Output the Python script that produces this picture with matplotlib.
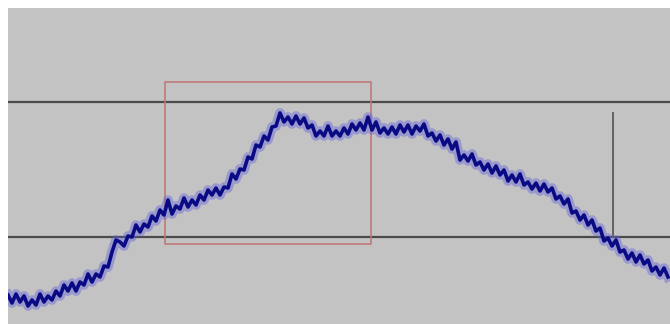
import numpy as np
import matplotlib
matplotlib.use("Agg")
import matplotlib.pyplot as plt
from matplotlib.patches import Rectangle

# signal, one value every 4 samples starting at sample 8
start_sample = 8
step = 4
signal = [
    29, 21, 30, 22, 28, 18, 24, 19, 30, 22, 28, 24,
    33, 28, 39, 33, 41, 33, 42, 39, 50, 42, 50, 47,
    58, 57, 72, 84, 82, 78, 88, 87, 99, 92, 100, 97,
    108, 103, 114, 109, 124, 110, 118, 115, 126, 117, 124, 119,
    129, 124, 134, 129, 136, 129, 137, 136, 150, 145, 155, 154,
    167, 165, 179, 177, 188, 184, 197, 198, 211, 202, 207, 200,
    208, 200, 206, 196, 199, 188, 193, 188, 198, 188, 193, 188,
    196, 190, 200, 194, 201, 194, 207, 194, 202, 191, 196, 190,
    197, 190, 199, 192, 199, 190, 198, 193, 200, 188, 191, 183,
    189, 179, 185, 175, 182, 164, 169, 163, 170, 159, 162, 154,
    160, 151, 158, 149, 154, 143, 149, 142, 150, 139, 142, 135,
    141, 133, 140, 132, 136, 125, 128, 120, 125, 111, 113, 104,
    109, 99, 104, 93, 96, 83, 86, 78, 84, 72, 74, 65,
    71, 62, 69, 60, 64, 53, 57, 49, 56, 47,
]
samples = np.arange(len(signal)) * step + start_sample

# reference levels and selection box
ref_levels = [222, 87]
box_x = [165, 371]
box_y = [80, 242]
cursor_x = 613
cursor_y = [87, 211]

fig = plt.figure(figsize=(6.7, 3.24), dpi=100, facecolor="white")
ax = fig.add_axes([8 / 670, 0, 662 / 670, 316 / 324])
ax.set_facecolor("#c3c3c3")
ax.set_xlim(8, 670)
ax.set_ylim(0, 316)

for lvl in ref_levels:
    ax.axhline(lvl, color="#4a4a4a", lw=1.6, zorder=2)

ax.add_patch(Rectangle((box_x[0], box_y[0]), box_x[1] - box_x[0], box_y[1] - box_y[0],
                       fill=False, edgecolor="#c07474", lw=1.1, zorder=3))

ax.plot([cursor_x, cursor_x], cursor_y, color="#5a5a5a", lw=1.3, zorder=3)

# halo then trace
ax.plot(samples, signal, color="#5c5ce0", lw=7, alpha=0.4, zorder=4)
ax.plot(samples, signal, color="#0a0a85", lw=2.6, zorder=5)

for s in ax.spines.values():
    s.set_visible(False)
ax.set_xticks([])
ax.set_yticks([])

fig.savefig("out.png", dpi=100, facecolor="white")
